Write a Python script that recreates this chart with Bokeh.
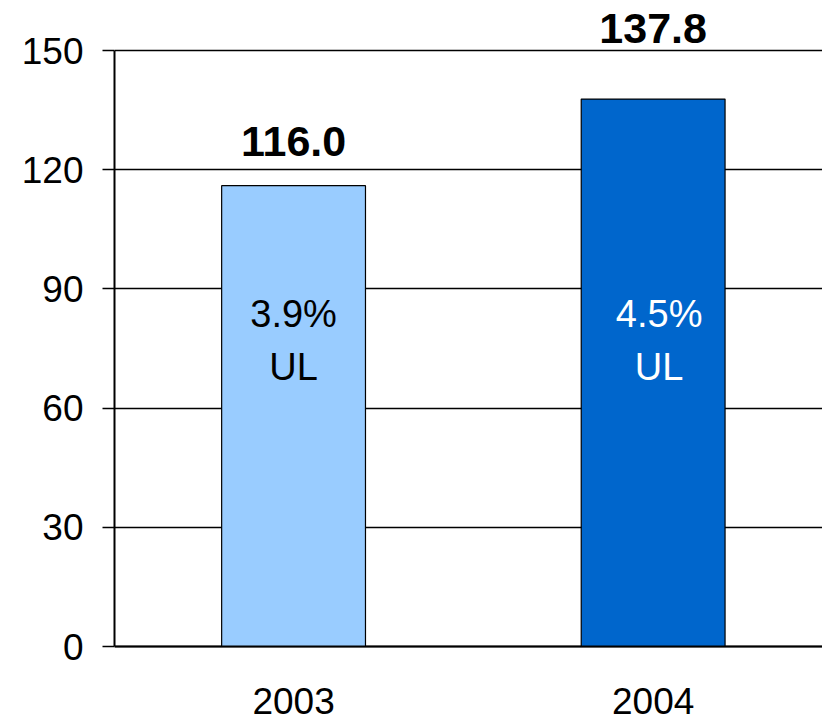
from bokeh.plotting import figure
from bokeh.models import Range1d, FixedTicker, ColumnDataSource, LabelSet, Span
from bokeh.core.properties import value
from bokeh.embed import file_html
from bokeh.resources import INLINE

# ---- data ----
years = ["2003", "2004"]
values = [116.0, 137.8]
value_text = ["116.0", "137.8"]
pct_text = ["3.9%", "4.5%"]
ul_text = ["UL", "UL"]
bar_colors = ["#99CCFF", "#0066CC"]
inner_colors = ["#000000", "#FFFFFF"]
y_ticks = [0, 30, 60, 90, 120, 150]

FONT = "Liberation Sans"

xpos = [i + 0.5 for i in range(len(years))]
n = len(years)

p = figure(width=822, height=723, output_backend="svg", toolbar_location=None,
           x_range=Range1d(0.002, 1.971), y_range=Range1d(-19.38, 162.6),
           min_border_left=114, min_border_right=0, min_border_top=0,
           min_border_bottom=0)
p.outline_line_color = None
p.background_fill_color = "white"
p.border_fill_color = "white"

src = ColumnDataSource(dict(x=xpos, top=values, color=bar_colors,
                            vtext=value_text, pct=pct_text, ul=ul_text,
                            year=years, zero=[0] * n,
                            icolor=inner_colors, ixoff=[0, 6],
                            off=[30, 56], pct_y=[80.3] * n, ul_y=[67.0] * n))

# grid & zero line
p.xgrid.grid_line_color = None
p.ygrid.grid_line_color = "black"
p.ygrid.grid_line_width = 1.3
p.ygrid.ticker = FixedTicker(ticks=y_ticks)
p.add_layout(Span(location=0, dimension="width", line_color="black", line_width=2))

p.vbar(x="x", top="top", bottom=0, width=0.40, fill_color="color",
       line_color="black", line_width=1.2, source=src)

# Axes
p.xaxis.visible = False

p.yaxis.ticker = FixedTicker(ticks=y_ticks)
p.yaxis.bounds = (0, 150)
p.yaxis.minor_tick_line_color = None
p.yaxis.major_tick_out = 12
p.yaxis.major_tick_in = 0
p.yaxis.major_tick_line_color = "black"
p.yaxis.major_tick_line_width = 1.5
p.yaxis.axis_line_color = "black"
p.yaxis.axis_line_width = 2
p.yaxis.major_label_standoff = 19
p.yaxis.major_label_text_font = FONT
p.yaxis.major_label_text_font_size = "37px"
p.yaxis.major_label_text_color = "black"

# Category labels below the baseline
yl = LabelSet(x="x", y="zero", text="year", source=src, y_offset=-67,
              text_align="center", text_baseline="alphabetic",
              text_font=value(FONT), text_font_size="37px", text_color="black")
p.add_layout(yl)

# Value labels above bars
vl = LabelSet(x="x", y="top", text="vtext", source=src, y_offset="off",
              text_align="center", text_baseline="alphabetic",
              text_font=value(FONT), text_font_size="43px", text_font_style="bold",
              text_color="black")
p.add_layout(vl)

pl = LabelSet(x="x", y="pct_y", text="pct", source=src, x_offset="ixoff",
              text_align="center", text_baseline="alphabetic",
              text_font=value(FONT), text_font_size="38px", text_color="icolor")
ul = LabelSet(x="x", y="ul_y", text="ul", source=src, x_offset="ixoff",
              text_align="center", text_baseline="alphabetic",
              text_font=value(FONT), text_font_size="38px", text_color="icolor")
p.add_layout(pl)
p.add_layout(ul)

open("out.html", "w").write(file_html(p, INLINE))
